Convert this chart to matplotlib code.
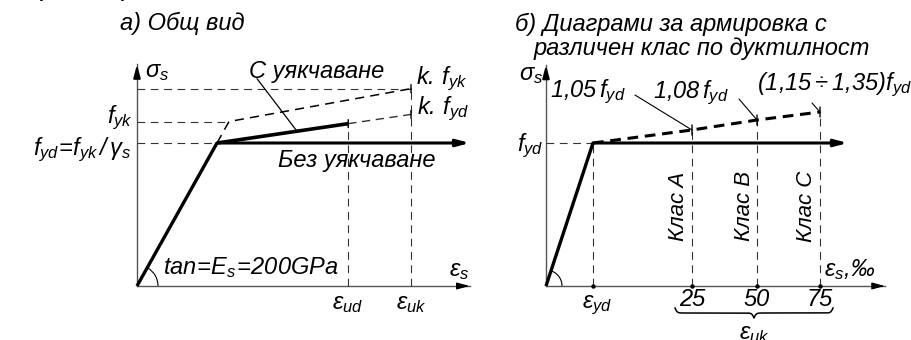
import numpy as np
import matplotlib.pyplot as plt
from matplotlib.patches import Arc
from matplotlib.transforms import IdentityTransform

plt.rcParams['font.family'] = ['Liberation Sans', 'DejaVu Sans']
plt.rcParams['font.style'] = 'italic'
plt.rcParams['mathtext.fontset'] = 'custom'
plt.rcParams['mathtext.it'] = 'Liberation Sans:italic'
plt.rcParams['mathtext.rm'] = 'Liberation Sans'
plt.rcParams['mathtext.default'] = 'it'

# ---- a) general view (schematic units: strain in eps_yd, stress in f_yd)
eps_yd_a = 1.0
eps_ud_a = 2.64
eps_uk_a = 3.425
gamma_s = 1.15
k_a = 1.2
f_yd = 1.0
f_yk = gamma_s * f_yd
kf_yk = k_a * f_yk
kf_yd = k_a * f_yd

# ---- b) ductility classes (strain in permille, stress in f_yd)
eps_yd = 2.17
class_names = ['Клас A', 'Клас B', 'Клас C']
eps_uk = [25, 50, 75]
k_min = [1.05, 1.08, 1.15]
k_labels = [r'$1{,}05\,f_{yd}$', r'$1{,}08\,f_{yd}$', r'$(1{,}15\div1{,}35)f_{yd}$']

FS = 17
AX_C = '#555555'
DASH_C = '#333333'

fig = plt.figure(figsize=(9.11, 3.40), dpi=100)


def make_axes():
    ax = fig.add_axes([0, 0, 1, 1])
    ax.set_axis_off()
    ax.patch.set_visible(False)
    return ax


def disp(ax, x, y):
    return ax.transData.transform((x, y))


def head(ax, x, y, dx, dy, lw=1.0):
    ax.annotate('', xy=(x, y), xytext=(dx, dy), textcoords='offset pixels',
                arrowprops=dict(arrowstyle='-|>,head_length=0.75,head_width=0.2',
                                lw=lw, color='black', shrinkA=0, shrinkB=0))


def thin_dash(ax, xs, ys):
    ax.plot(xs, ys, color=DASH_C, lw=0.8, dashes=(7, 5))


def tick(ax, x, y, h):
    for dy in (h, -h):
        ax.annotate('', xy=(x, y), xytext=(0, dy), textcoords='offset pixels',
                    arrowprops=dict(arrowstyle='-', lw=1.0, color='black',
                                    shrinkA=0, shrinkB=0))


def angle_arc(ax, x1, y1, r):
    o = disp(ax, 0, 0)
    p = disp(ax, x1, y1)
    ang = np.degrees(np.arctan2(p[1] - o[1], p[0] - o[0]))
    ax.add_patch(Arc(o, 2 * r, 2 * r, theta1=0, theta2=ang, lw=0.8,
                     color='black', transform=IdentityTransform()))


# ================= left panel =================
ax1 = make_axes()
ax1.set_xlim(-137 / 80, 774 / 80)
ax1.set_ylim(-54 / 143, 286 / 143)

x_end_a = 4.16
y_end_a = 1.55
ax1.plot([0, x_end_a], [0, 0], color=AX_C, lw=1.0)
ax1.plot([0, 0], [0, y_end_a], color=AX_C, lw=1.0)
head(ax1, x_end_a, 0, -13, 0)
head(ax1, 0, y_end_a, 0, -11, lw=1.5)

# reference lines
thin_dash(ax1, [0, eps_uk_a], [kf_yk, kf_yk])
thin_dash(ax1, [0, gamma_s * eps_yd_a], [f_yk, f_yk])
thin_dash(ax1, [0, eps_yd_a], [f_yd, f_yd])
s_ud = f_yd + (kf_yd - f_yd) * (eps_ud_a - eps_yd_a) / (eps_uk_a - eps_yd_a)
thin_dash(ax1, [eps_ud_a, eps_ud_a], [0, s_ud])
thin_dash(ax1, [eps_uk_a, eps_uk_a], [0, kf_yk])
ax1.plot([eps_ud_a, eps_uk_a], [s_ud, kf_yd], color=DASH_C, lw=1.0, dashes=(6, 4))

# characteristic curve with hardening
ax1.plot([eps_yd_a, gamma_s * eps_yd_a, eps_uk_a], [f_yd, f_yk, kf_yk],
         color='black', lw=1.1, dashes=(6, 4))

# design curves
ax1.plot([0, eps_yd_a], [0, f_yd], color='black', lw=2.4, solid_capstyle='butt')
ax1.plot([eps_yd_a, eps_ud_a], [f_yd, s_ud], color='black', lw=2.6, solid_capstyle='butt')
ax1.annotate('', xy=(x_end_a, f_yd), xytext=(eps_yd_a, f_yd),
             arrowprops=dict(arrowstyle='-|>,head_length=0.75,head_width=0.2',
                             lw=2.2, color='black', shrinkA=0, shrinkB=0))
for xx, yy in [(eps_ud_a, s_ud), (eps_uk_a, kf_yd), (eps_uk_a, kf_yk)]:
    tick(ax1, xx, yy, 4)
angle_arc(ax1, eps_yd_a, f_yd, 21)

# leader to the hardening branch
x_lead = 2.0
s_lead = f_yd + (s_ud - f_yd) * (x_lead - eps_yd_a) / (eps_ud_a - eps_yd_a)
ax1.annotate('', xy=(x_lead, s_lead), xytext=(1.5, 1.45),
             arrowprops=dict(arrowstyle='-', lw=0.9, color='black', shrinkA=0, shrinkB=0))

ax1.text(-0.2125, 1.79, 'а) Общ вид', fontsize=FS, va='baseline', ha='left')
ax1.text(0.1, 1.50, r'$\mathrm{\sigma}_s$', fontsize=FS, ha='left', va='center')
ax1.text(-0.05, f_yk + 0.025, r'$f_{yk}$', fontsize=FS, ha='right', va='center')
ax1.text(-0.07, f_yd - 0.045, r'$f_{yd}\!=\!f_{yk}\,/\,\mathrm{\gamma}_s$', fontsize=FS,
         ha='right', va='center')
ax1.text(2.24, 1.50, 'С уякчаване', fontsize=FS, ha='center', va='center')
ax1.text(2.75, 0.88, 'Без уякчаване', fontsize=FS, ha='center', va='center')
ax1.text(eps_uk_a + 0.06, kf_yk + 0.07, r'$k.\,f_{yk}$', fontsize=FS, ha='left', va='center')
ax1.text(eps_uk_a + 0.08, kf_yd + 0.04, r'$k.\,f_{yd}$', fontsize=FS, ha='left', va='center')
ax1.text(0.33, 0.13, r'$tan\!=\!E_s\!=\!200GPa$', fontsize=FS, ha='left', va='center')
ax1.text(eps_ud_a, -0.12, r'$\mathrm{\varepsilon}_{ud}$', fontsize=FS, ha='center', va='center')
ax1.text(eps_uk_a, -0.12, r'$\mathrm{\varepsilon}_{uk}$', fontsize=FS, ha='center', va='center')
ax1.text(3.9, 0.11, r'$\mathrm{\varepsilon}_s$', fontsize=FS, ha='left', va='center')

# formula line running off the top edge
for fx, s in [(47, r'$f_{yd}$'), (128, r'$f_{yk}$'), (188, r'$\mathrm{\gamma}_s$')]:
    fig.text(fx / 911, 345 / 340, s, fontsize=FS, ha='center', va='baseline')

# ================= right panel =================
ax2 = make_axes()
x_kn = np.array([-40, 0, eps_yd, 25, 50, 75, 140])
x_px = np.array([-40 * 47 / eps_yd, 0, 47, 146, 211, 274, 274 + 65 * 2.52])
y_kn = np.array([-1, 0, 1, 1.05, 1.08, 1.15, 3])
y_px = np.array([-143, 0, 143, 156, 166, 174, 174 + 1.85 * 143])
ax2.set_xscale('function', functions=(lambda v: np.interp(v, x_kn, x_px),
                                      lambda v: np.interp(v, x_px, x_kn)))
ax2.set_yscale('function', functions=(lambda v: np.interp(v, y_kn, y_px),
                                      lambda v: np.interp(v, y_px, y_kn)))
ax2.set_xlim(np.interp(-546, x_px, x_kn), np.interp(365, x_px, x_kn))
ax2.set_ylim(np.interp(-54, y_px, y_kn), np.interp(286, y_px, y_kn))

x_end_b = 100.8
y_end_b = 1.48
ax2.plot([0, x_end_b], [0, 0], color=AX_C, lw=1.0)
ax2.plot([0, 0], [0, y_end_b], color=AX_C, lw=1.0)
head(ax2, x_end_b, 0, -13, 0)
head(ax2, 0, y_end_b, 0, -11, lw=1.5)

thin_dash(ax2, [0, eps_yd], [f_yd, f_yd])
thin_dash(ax2, [eps_yd, eps_yd], [0, f_yd])
for e, kk in zip(eps_uk, k_min):
    thin_dash(ax2, [e, e], [0, kk])
    tick(ax2, e, kk, 5)
ax2.plot([eps_yd] + eps_uk, [0] * 4, 'o', color='black', ms=2.2)

ax2.plot([eps_yd] + eps_uk, [f_yd] + k_min, color='black', lw=2.2, dashes=(3.5, 2.2))
ax2.plot([0, eps_yd], [0, f_yd], color='black', lw=2.4, solid_capstyle='butt')
ax2.annotate('', xy=(86, f_yd), xytext=(eps_yd, f_yd),
             arrowprops=dict(arrowstyle='-|>,head_length=0.75,head_width=0.2',
                             lw=2.2, color='black', shrinkA=0, shrinkB=0))
angle_arc(ax2, eps_yd, f_yd, 16)

# labels of the hardening points with leaders
lead_from = [(-57, 35), (-18, 21), (-8, 9)]
lab_off = [(-142, 38), (-104, 27), (-63, 27)]
for e, kk, lab, lf, lo in zip(eps_uk, k_min, k_labels, lead_from, lab_off):
    ax2.annotate('', xy=(e, kk), xytext=lf, textcoords='offset pixels',
                 arrowprops=dict(arrowstyle='-', lw=0.8, color='black',
                                 shrinkA=0, shrinkB=0))
    ax2.annotate(lab, xy=(e, kk), xytext=lo, textcoords='offset pixels',
                 fontsize=FS, ha='left', va='center')

for e, name in zip(eps_uk, class_names):
    ax2.annotate(name, xy=(e, 0), xytext=(-13, 80), textcoords='offset pixels',
                 fontsize=16, rotation=90, ha='center', va='center')
    ax2.annotate(str(e), xy=(e, 0), xytext=(0, -13), textcoords='offset pixels',
                 fontsize=FS, ha='center', va='center')

ax2.annotate(r'$\mathrm{\varepsilon}_{yd}$', xy=(eps_yd, 0), xytext=(4, -19),
             textcoords='offset pixels', fontsize=FS, ha='center', va='center')
ax2.annotate(r'$\mathrm{\varepsilon}_{s}$,‰', xy=(eps_uk[-1], 0), xytext=(4, 16),
             textcoords='offset pixels', fontsize=FS, ha='left', va='center')
ax2.annotate(r'$\mathrm{\sigma}_s$', xy=(0, f_yd), xytext=(-3, 69),
             textcoords='offset pixels', fontsize=FS, ha='right', va='center')
ax2.annotate(r'$f_{yd}$', xy=(0, f_yd), xytext=(-3, -3),
             textcoords='offset pixels', fontsize=FS, ha='right', va='center')

# panel title, two lines
ax2.annotate('б) Диаграми за армировка с', xy=(0, 0), xytext=(515 - 546, 286 - 31),
             textcoords='offset pixels', fontsize=FS, ha='left', va='baseline')
ax2.annotate('различен клас по дуктилност', xy=(0, 0), xytext=(534 - 546, 286 - 55),
             textcoords='offset pixels', fontsize=FS, ha='left', va='baseline')

# brace under the class strains
b0 = disp(ax2, eps_uk[0], 0)[0] - 17
b1 = disp(ax2, eps_uk[-1], 0)[0] + 13
top = disp(ax2, 0, 0)[1] - 22
xs = np.linspace(b0, b1, 301)
half = xs[:151]
yh = 1 / (1 + np.exp(-0.9 * (half - half[0]))) + 1 / (1 + np.exp(-0.9 * (half - half[-1])))
yb = np.concatenate((yh, yh[-2::-1]))
ax2.plot(xs, top - 10 * (yb - 0.5), color='black', lw=1.1, transform=IdentityTransform())
fig.text((b0 + b1) / 2 / 911, (top - 14) / 340, r'$\mathrm{\varepsilon}_{uk}$',
         fontsize=FS, ha='center', va='top')

fig.savefig('out.png', dpi=100)
